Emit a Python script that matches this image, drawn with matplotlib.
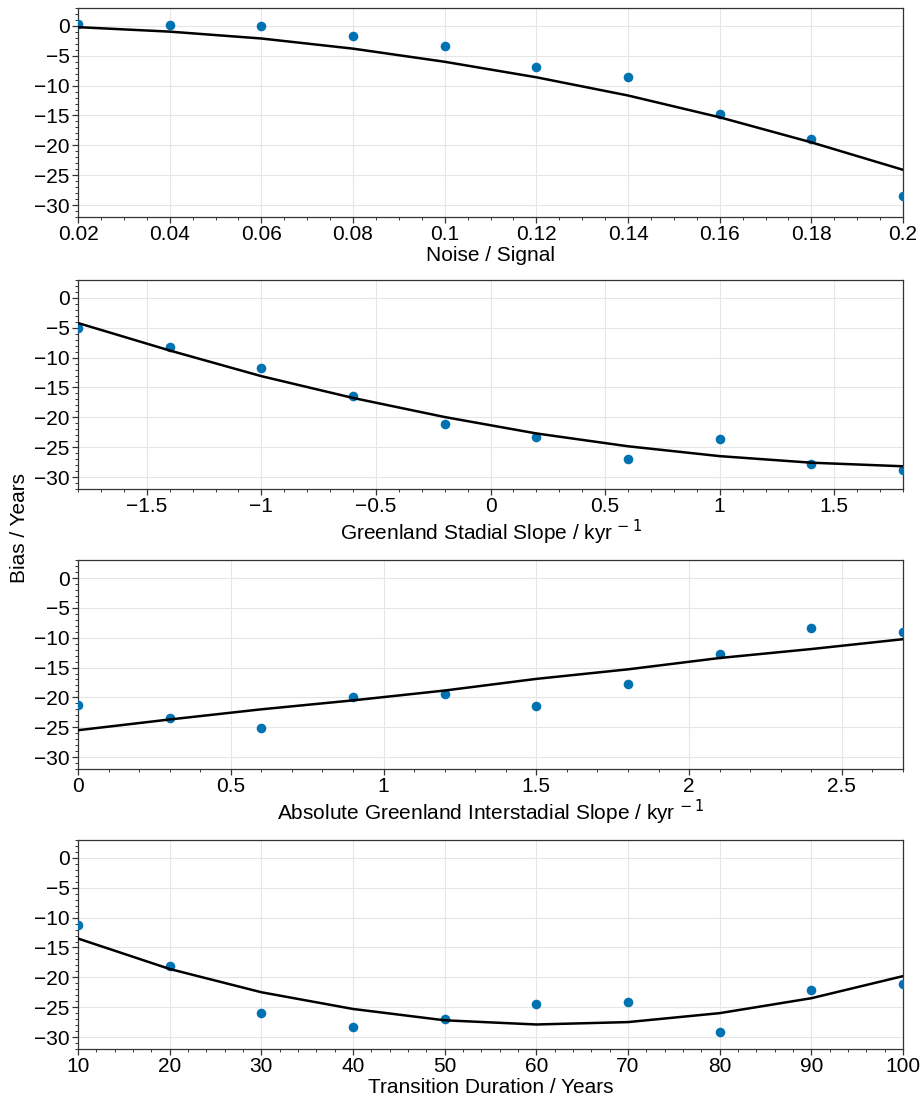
import numpy as np
import matplotlib
matplotlib.use("Agg")
import matplotlib.pyplot as plt
from matplotlib.ticker import MultipleLocator, FuncFormatter

plt.rcParams['font.family'] = ['Liberation Sans', 'DejaVu Sans']
plt.rcParams['font.size'] = 15

# -------------------
# DATA
# -------------------
noise_x = [0.02, 0.04, 0.06, 0.08, 0.10, 0.12, 0.14, 0.16, 0.18, 0.20]
noise_pts = [0.4, 0.2, 0.0, -1.6, -3.3, -6.9, -8.6, -14.7, -18.95, -28.5]
noise_fit = [-0.2, -0.95, -2.1, -3.8, -6.0, -8.6, -11.65, -15.3, -19.5, -24.1]

stad_x = [-1.8, -1.4, -1.0, -0.6, -0.2, 0.2, 0.6, 1.0, 1.4, 1.8]
stad_pts = [-5.1, -8.3, -11.8, -16.4, -21.05, -23.3, -26.9, -23.6, -27.9, -28.8]
stad_fit = [-4.2, -8.8, -13.1, -16.75, -19.95, -22.7, -24.85, -26.5, -27.6, -28.2]

inter_x = [0.0, 0.3, 0.6, 0.9, 1.2, 1.5, 1.8, 2.1, 2.4, 2.7]
inter_pts = [-21.3, -23.4, -25.1, -19.9, -19.35, -21.5, -17.7, -12.8, -8.4, -9.1]
inter_fit = [-25.5, -23.7, -22.0, -20.5, -18.85, -16.9, -15.3, -13.4, -11.9, -10.25]

dur_x = [10, 20, 30, 40, 50, 60, 70, 80, 90, 100]
dur_pts = [-11.3, -18.1, -26.0, -28.4, -27.0, -24.4, -24.1, -29.1, -22.1, -21.2]
dur_fit = [-13.5, -18.6, -22.5, -25.3, -27.2, -27.9, -27.5, -26.0, -23.5, -19.8]

xlabels = ['Noise / Signal',
           r'Greenland Stadial Slope / kyr$^{\,-1}$',
           r'Absolute Greenland Interstadial Slope / kyr$^{\,-1}$',
           'Transition Duration / Years']

panels = [(noise_x, noise_pts, noise_fit, 0.02, 0.005),
          (stad_x, stad_pts, stad_fit, 0.5, 0.1),
          (inter_x, inter_pts, inter_fit, 0.5, 0.1),
          (dur_x, dur_pts, dur_fit, 10, 2)]

DOT = '#0072B2'


def fmt(v, pos):
    s = f'{v:.6f}'.rstrip('0').rstrip('.')
    if s in ('-0', ''):
        s = '0'
    return s.replace('-', '\u2212')


fig = plt.figure(figsize=(9.22, 11.03), dpi=100)
left, width = 0.0846, 0.8948
bottoms = [0.8033, 0.5567, 0.3028, 0.0490]
height = 0.1894

for i, (x, pts, fit, major, minor) in enumerate(panels):
    ax = fig.add_axes([left, bottoms[i], width, height])
    ax.scatter(x, pts, s=48, color=DOT, zorder=3, linewidths=0)
    ax.plot(x, fit, color='black', lw=1.8, zorder=4)
    ax.set_xlim(x[0], x[-1])
    ax.set_ylim(-32, 3)
    ax.xaxis.set_major_locator(MultipleLocator(major))
    ax.xaxis.set_minor_locator(MultipleLocator(minor))
    ax.yaxis.set_major_locator(MultipleLocator(5))
    ax.yaxis.set_minor_locator(MultipleLocator(1))
    ax.xaxis.set_major_formatter(FuncFormatter(fmt))
    ax.yaxis.set_major_formatter(FuncFormatter(fmt))
    ax.grid(True, which='major', color='#e6e6e6', lw=0.8, zorder=0)
    ax.set_axisbelow(True)
    ax.tick_params(which='major', length=4, width=0.9, labelsize=15, pad=2,
                   color='#333333')
    ax.tick_params(which='minor', length=2.2, width=0.7, color='#333333')
    for sp in ax.spines.values():
        sp.set_color('#333333')
        sp.set_linewidth(0.9)
    ax.set_xlabel(xlabels[i], fontsize=15, labelpad=1)

fig.text(0.021, 0.521, 'Bias / Years', rotation=90, va='center', ha='center',
         fontsize=15)

plt.savefig('out.png', dpi=100)
